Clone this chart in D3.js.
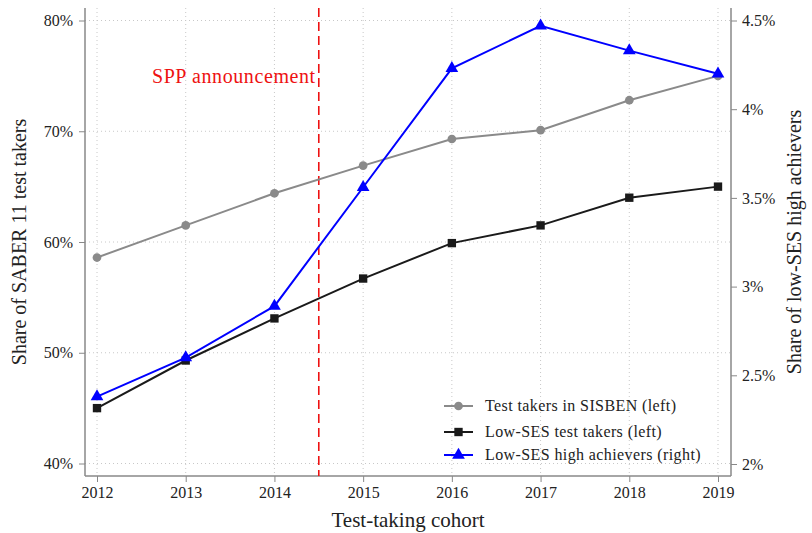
<!DOCTYPE html>
<html>
<head>
<meta charset="utf-8">
<script src="https://cdn.jsdelivr.net/npm/d3@7"></script>
<style>
  body { margin: 0; background: #fff; }
  text { font-family: "Liberation Serif", "DejaVu Serif", serif; }
</style>
</head>
<body>
<script>
// chart data
let years = [2012, 2013, 2014, 2015, 2016, 2017, 2018, 2019];
let sisben = [58.6, 61.5, 64.4, 66.9, 69.3, 70.1, 72.8, 75.0];
let lowSes = [45.0, 49.3, 53.1, 56.7, 59.9, 61.5, 64.0, 65.0];
let highAch = [2.38, 2.60, 2.89, 3.56, 4.23, 4.47, 4.33, 4.20];
let leftTicks = [40, 50, 60, 70, 80];
let rightTicks = [2, 2.5, 3, 3.5, 4, 4.5];
let legendLabels = ["Test takers in SISBEN (left)", "Low-SES test takers (left)", "Low-SES high achievers (right)"];

let width = 812, height = 533;
let svg = d3.select("body").append("svg")
  .attr("width", width).attr("height", height);

let x = d3.scaleLinear().domain([2012, 2019]).range([97, 718]);
let yL = d3.scaleLinear().domain([40, 80]).range([463.5, 20.5]);
let yR = d3.scaleLinear().domain([2, 4.5]).range([464, 20.5]);
let pTop = 8, pBottom = 476, pLeft = 85, pRight = 731;

// grid
let grid = svg.append("g");
grid.selectAll("line.h").data(leftTicks).enter().append("line")
  .attr("x1", pLeft).attr("x2", pRight)
  .attr("y1", d => yL(d)).attr("y2", d => yL(d))
  .style("stroke", "#c8c8c8").style("stroke-dasharray", "1,3");
grid.selectAll("line.v").data(years).enter().append("line")
  .attr("x1", d => x(d)).attr("x2", d => x(d))
  .attr("y1", pTop).attr("y2", pBottom)
  .style("stroke", "#c8c8c8").style("stroke-dasharray", "1,3");

// axes
let axL = svg.append("g").attr("transform", "translate(" + pLeft + ",0)")
  .call(d3.axisLeft(yL).tickValues(leftTicks).tickSize(6).tickPadding(6).tickFormat(d => d + "%"));
let axR = svg.append("g").attr("transform", "translate(" + pRight + ",0)")
  .call(d3.axisRight(yR).tickValues(rightTicks).tickSize(6).tickPadding(5).tickFormat(d => d + "%"));
let axB = svg.append("g").attr("transform", "translate(0," + pBottom + ")")
  .call(d3.axisBottom(x).tickValues(years).tickSize(6).tickPadding(5).tickFormat(d3.format("d")));
[axL, axR, axB].forEach(function(a) {
  a.select(".domain").remove();
  a.selectAll(".tick line").style("stroke", "#888");
  a.selectAll(".tick text").style("font-size", "16px").style("fill", "#222")
    .style("font-family", "'Liberation Serif', serif");
});
axL.append("line").attr("y1", pTop).attr("y2", pBottom).style("stroke", "#888").style("stroke-width", 1.5);
axR.append("line").attr("y1", pTop).attr("y2", pBottom).style("stroke", "#888").style("stroke-width", 1.5);
axB.append("line").attr("x1", pLeft).attr("x2", pRight).style("stroke", "#888").style("stroke-width", 1.5);

// announcement line
svg.append("line")
  .attr("x1", x(2014.5)).attr("x2", x(2014.5))
  .attr("y1", pTop).attr("y2", pBottom)
  .style("stroke", "#ee1111").style("stroke-width", 1.6).style("stroke-dasharray", "9,5");
svg.append("text").text("SPP announcement")
  .attr("x", x(2014.5) - 3).attr("y", 83)
  .attr("text-anchor", "end")
  .style("fill", "#ee1111").style("font-size", "20px").style("letter-spacing", "0.6px");

// series
let series = [
  { vals: sisben, y: yL, color: "#8a8a8a", marker: "circle" },
  { vals: lowSes, y: yL, color: "#1a1a1a", marker: "square" },
  { vals: highAch, y: yR, color: "#0000ff", marker: "triangle" }
];
let symbols = { circle: d3.symbol(d3.symbolCircle, 60), square: d3.symbol(d3.symbolSquare, 70), triangle: d3.symbol(d3.symbolTriangle, 70) };

series.forEach(function(s) {
  let line = d3.line().x((d, i) => x(years[i])).y(d => s.y(d));
  svg.append("path").datum(s.vals)
    .attr("d", line)
    .style("fill", "none").style("stroke", s.color).style("stroke-width", 2);
  svg.append("g").selectAll("path").data(s.vals).enter().append("path")
    .attr("d", symbols[s.marker])
    .attr("transform", (d, i) => "translate(" + x(years[i]) + "," + s.y(d) + ")")
    .style("fill", s.color);
});

// legend
let legY = [406, 432, 455];
let leg = svg.append("g");
series.forEach(function(s, i) {
  leg.append("line").attr("x1", 444).attr("x2", 473)
    .attr("y1", legY[i]).attr("y2", legY[i])
    .style("stroke", s.color).style("stroke-width", 2);
  leg.append("path").attr("d", symbols[s.marker])
    .attr("transform", "translate(458.5," + legY[i] + ")")
    .style("fill", s.color);
  leg.append("text").text(legendLabels[i])
    .attr("x", 485).attr("y", legY[i] + 5)
    .style("font-size", "16px").style("letter-spacing", "0.4px").style("fill", "#222");
});

// axis titles
svg.append("text").text("Test-taking cohort")
  .attr("x", (pLeft + pRight) / 2).attr("y", 527)
  .attr("text-anchor", "middle").style("font-size", "21px").style("fill", "#222");
svg.append("text").text("Share of SABER 11 test takers")
  .attr("transform", "translate(26," + ((pTop + pBottom) / 2) + ") rotate(-90)")
  .attr("text-anchor", "middle").style("font-size", "20px").style("fill", "#222");
svg.append("text").text("Share of low-SES high achievers")
  .attr("transform", "translate(801," + ((pTop + pBottom) / 2) + ") rotate(-90)")
  .attr("text-anchor", "middle").style("font-size", "20px").style("fill", "#222");
</script>
</body>
</html>
